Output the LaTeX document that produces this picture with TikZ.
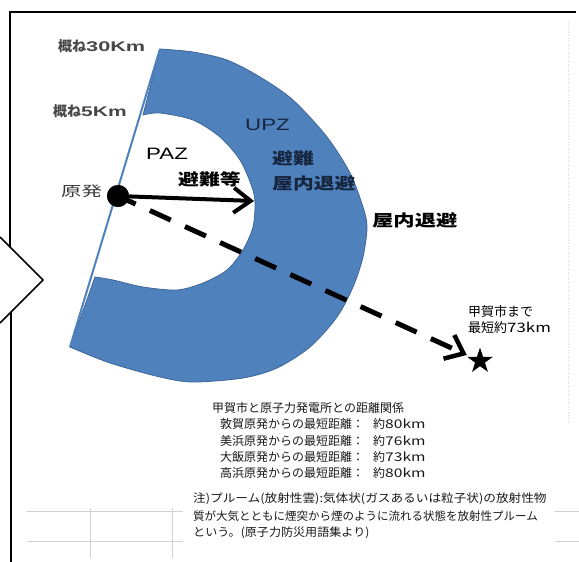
\documentclass[tikz,border=0pt]{standalone}
\usepackage{fontspec}
\usepackage{graphicx}
\setmainfont{Noto Sans CJK JP}
\newfontfamily\lat{Liberation Sans}
\usetikzlibrary{arrows.meta,shapes.geometric}
\definecolor{zoneblue}{HTML}{4F81BD}
\definecolor{zoneedge}{HTML}{3D6699}
\definecolor{navy}{HTML}{17263F}
\newcommand{\sx}[2]{\scalebox{#1}[1]{#2}}
\tikzset{
  lbl/.style={inner sep=0, anchor=west},
  bigb/.style={font=\bfseries\fontsize{16}{18}\selectfont},
  kmlbl/.style={font=\bfseries\fontsize{14}{16}\selectfont, text=black!72},
  small/.style={font=\fontsize{12}{14}\selectfont, text=black!90},
  note/.style={font=\fontsize{11.5}{13}\selectfont, text=black!90},
  faint/.style={draw=black!18, line width=0.6pt},
}
\begin{document}
\begin{tikzpicture}[x=1pt,y=-1pt]
\useasboundingbox (0,0) rectangle (579,562);
% faint spreadsheet grid remnants
\draw[faint] (27,511) -- (183,511) (27,541) -- (183,541);
\draw[faint] (90,508) -- (90,558) (172,508) -- (172,558);
\draw[faint] (555,511) -- (579,511) (555,541) -- (579,541);
\draw[draw=black!15, line width=0.6pt, dotted] (568,22) -- (568,425);
% zone shape
\filldraw[fill=zoneblue, draw=zoneedge, line width=0.8pt]
  plot[smooth] coordinates {(160,49) (193,52) (227,60) (260,77) (293,100) (327,137) (350,173) (363,207) (367,227) (363,257) (353,287) (337,317) (310,347) (277,368) (243,378) (193,382) (160,377) (110,363) (70,347)}
  -- plot[smooth] coordinates {(95,277) (113,280) (143,287) (177,290) (203,283) (227,270) (243,250) (253,227) (255,203) (252,187) (240,160) (220,137) (193,120) (160,113) (143,115)}
  -- cycle;
\draw[draw=zoneblue, line width=2pt] (160,49) -- (70,347);
% nodes
\node[star, star points=5, star point ratio=2.6, fill=black, minimum size=27pt, inner sep=0] (s) at (480,361) {};
\node[circle, fill=black, minimum size=22pt, inner sep=0] (o) at (118,196) {};
\coordinate (pazedge) at (254,201);
% dashed plume arrow
\draw[line width=5pt, dash pattern=on 23pt off 15.6pt, dash phase=3.6pt,
      -{Straight Barb[length=16pt,width=26pt,line width=4.5pt]}, shorten >=4pt] (o.center) -- (s);
\node[circle, fill=black, minimum size=22pt, inner sep=0] at (o) {};
% solid arrow
\draw[line width=4pt, -{Straight Barb[length=17pt,width=25pt]}] (o) -- (pazedge);
% labels
\node[lbl, kmlbl] (k30) at (58,46) {概ね\sx{1.55}{\lat 30Km}};
\node[lbl, kmlbl] (k5) at (53,111) {概ね\sx{1.5}{\lat 5Km}};
\node[lbl, font=\fontsize{14}{16}\selectfont, text=black!78] (gen) at (61,191) {\sx{1.45}{原発}};
\node[lbl, font=\lat\fontsize{16.5}{18}\selectfont] (paz) at (146,154) {\sx{1.35}{PAZ}};
\node[lbl, bigb] (hin) at (178,179) {\sx{1.3}{避難等}};
\node[lbl, font=\lat\fontsize{16.5}{18}\selectfont, text=navy] (upz) at (245,125) {\sx{1.35}{UPZ}};
\node[lbl, bigb, text=navy] (u1) at (272,158) {\sx{1.3}{避難}};
\node[lbl, bigb, text=navy] (u2) at (272,183) {\sx{1.3}{屋内退避}};
\node[lbl, bigb] (out) at (372,220) {\sx{1.33}{屋内退避}};
\node[lbl, font=\fontsize{13}{15}\selectfont] (kk1) at (468,312) {甲賀市まで};
\node[lbl, font=\fontsize{13}{15}\selectfont] (kk2) at (468,328) {最短約\sx{1.3}{73km}};
% distance list
\node[lbl, small] (h) at (212,408) {甲賀市と原子力発電所との距離関係};
\node[lbl, small] (d1) at (220,424) {\makebox[153pt][l]{敦賀原発からの最短距離：}約\sx{1.3}{80km}};
\node[lbl, small] (d2) at (220,441) {\makebox[153pt][l]{美浜原発からの最短距離：}約\sx{1.3}{76km}};
\node[lbl, small] (d3) at (220,457) {\makebox[153pt][l]{大飯原発からの最短距離：}約\sx{1.3}{73km}};
\node[lbl, small] (d4) at (220,473) {\makebox[153pt][l]{高浜原発からの最短距離：}約\sx{1.3}{80km}};
% note
\node[lbl, note] (n1) at (193,499) {\sx{1.1}{注)プルーム(放射性雲):気体状(ガスあるいは粒子状)の放射性物}};
\node[lbl, note] (n2) at (193,516) {質が大気とともに煙突から煙のように流れる状態を放射性プルーム};
\node[lbl, note] (n3) at (193,533) {\sx{1.05}{という。(原子力防災用語集より)}};
% frame
\draw[line width=1.5pt] (576,12) -- (10,12) -- (10,247);
\draw[line width=1.5pt] (0,237) -- (43,280) -- (0,323);
\draw[line width=1.5pt] (11,312) -- (11,562);
\end{tikzpicture}
\end{document}
